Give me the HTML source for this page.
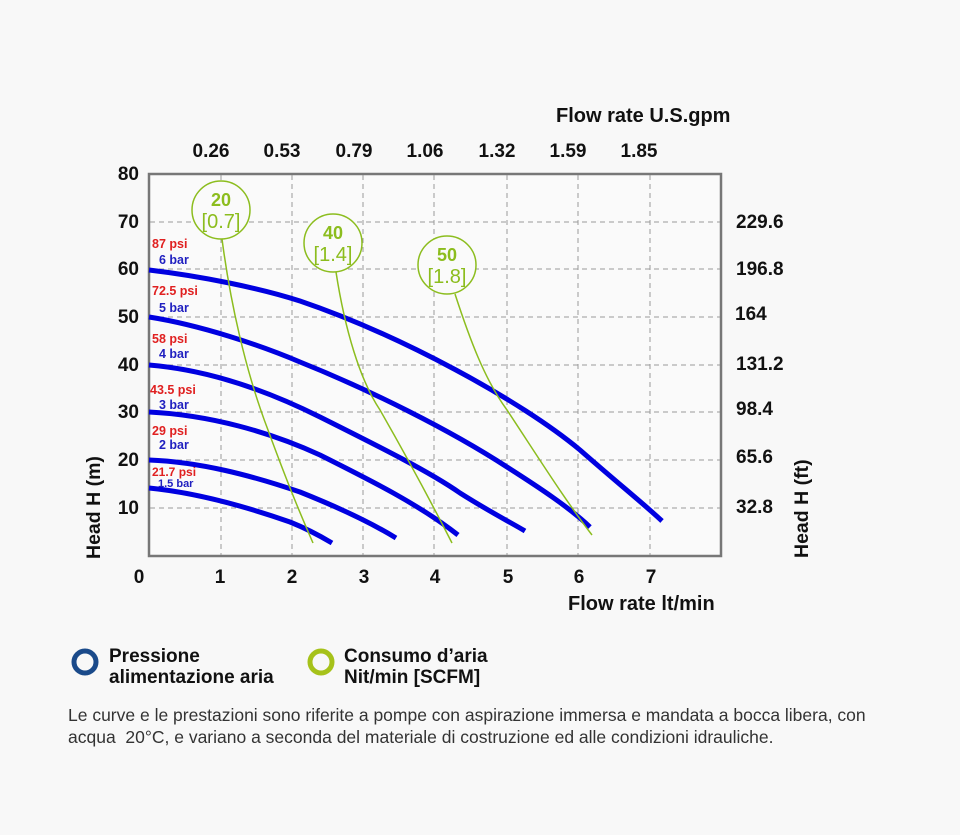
<!DOCTYPE html>
<html><head><meta charset="utf-8"><style>
body{margin:0;background:#f8f8f8;font-family:"Liberation Sans",sans-serif;}
</style></head><body>
<svg width="960" height="830" viewBox="0 0 960 830" xmlns="http://www.w3.org/2000/svg" font-family="Liberation Sans, sans-serif">
<rect width="960" height="830" fill="#f8f8f8"/>
<rect x="149" y="174" width="572" height="382" fill="#fafafa" stroke="#777" stroke-width="2.5"/>
<g stroke="#999" stroke-width="1" stroke-dasharray="5,4">
<line x1="221" y1="175" x2="221" y2="555"/><line x1="292" y1="175" x2="292" y2="555"/><line x1="363" y1="175" x2="363" y2="555"/><line x1="434" y1="175" x2="434" y2="555"/><line x1="507" y1="175" x2="507" y2="555"/><line x1="578" y1="175" x2="578" y2="555"/><line x1="650" y1="175" x2="650" y2="555"/>
<line x1="150" y1="222" x2="720" y2="222"/><line x1="150" y1="269" x2="720" y2="269"/><line x1="150" y1="317" x2="720" y2="317"/><line x1="150" y1="365" x2="720" y2="365"/><line x1="150" y1="412" x2="720" y2="412"/><line x1="150" y1="460" x2="720" y2="460"/><line x1="150" y1="508" x2="720" y2="508"/>
</g>
<g fill="none" stroke="#0000e0" stroke-width="5" stroke-linecap="butt">
<path d="M149,270 C200,276 260,288 300,301 C400,335 520,400 580,450 C620,485 645,505 662,521"/>
<path d="M149,317 C200,325 260,345 300,362 C370,390 450,430 507,467 C540,488 570,508 590,527"/>
<path d="M149,365 C210,370 270,392 320,417 C380,447 430,472 460,493 C490,512 510,522 525,531"/>
<path d="M149,412 C210,415 270,432 320,455 C370,480 420,505 458,535"/>
<path d="M149,460 C200,462 250,475 300,492 C340,508 370,522 396,538"/>
<path d="M149,488 C200,493 250,508 290,522 C310,530 322,537 332,543"/>
</g>
<g fill="none" stroke="#8cbd1e" stroke-width="1.5">
<path d="M222,239 C230,300 245,370 268,430 C290,490 303,520 313,543"/>
<path d="M336,272 C345,330 360,380 380,410 C400,445 425,490 452,543"/>
<path d="M455,294 C470,340 485,380 507,410 C540,460 565,500 592,535"/>
<circle cx="221" cy="210" r="29" fill="#fafafa"/><circle cx="333" cy="243" r="29" fill="#fafafa"/><circle cx="447" cy="265" r="29" fill="#fafafa"/>
</g>
<g text-anchor="middle" fill="#8cbd1e">
<text x="221" y="206" font-size="18" font-weight="bold">20</text><text x="221" y="228" font-size="20">[0.7]</text>
<text x="333" y="239" font-size="18" font-weight="bold">40</text><text x="333" y="261" font-size="20">[1.4]</text>
<text x="447" y="261" font-size="18" font-weight="bold">50</text><text x="447" y="283" font-size="20">[1.8]</text>
</g>
<g font-size="12.5" font-weight="bold">
<text x="152" y="248" fill="#e02020">87 psi</text><text x="159" y="264" fill="#2020c0">6 bar</text>
<text x="152" y="295" fill="#e02020">72.5 psi</text><text x="159" y="312" fill="#2020c0">5 bar</text>
<text x="152" y="343" fill="#e02020">58 psi</text><text x="159" y="358" fill="#2020c0">4 bar</text>
<text x="150" y="394" fill="#e02020">43.5 psi</text><text x="159" y="409" fill="#2020c0">3 bar</text>
<text x="152" y="435" fill="#e02020">29 psi</text><text x="159" y="449" fill="#2020c0">2 bar</text>
<text x="152" y="476" fill="#e02020" font-size="12">21.7 psi</text><text x="158" y="487" fill="#2020c0" font-size="11">1.5 bar</text>
</g>
<g font-size="19" font-weight="bold" fill="#111" text-anchor="end">
<text x="139" y="180">80</text><text x="139" y="228">70</text><text x="139" y="275">60</text><text x="139" y="323">50</text><text x="139" y="371">40</text><text x="139" y="418">30</text><text x="139" y="466">20</text><text x="139" y="514">10</text>
</g>
<g font-size="19" font-weight="bold" fill="#111">
<text x="736" y="228">229.6</text><text x="736" y="275">196.8</text><text x="735" y="320">164</text><text x="736" y="370">131.2</text><text x="736" y="415">98.4</text><text x="736" y="463">65.6</text><text x="736" y="513">32.8</text>
</g>
<g font-size="19" font-weight="bold" fill="#111" text-anchor="middle">
<text x="139" y="583">0</text><text x="220" y="583">1</text><text x="292" y="583">2</text><text x="364" y="583">3</text><text x="435" y="583">4</text><text x="508" y="583">5</text><text x="579" y="583">6</text><text x="651" y="583">7</text>
<text x="211" y="157">0.26</text><text x="282" y="157">0.53</text><text x="354" y="157">0.79</text><text x="425" y="157">1.06</text><text x="497" y="157">1.32</text><text x="568" y="157">1.59</text><text x="639" y="157">1.85</text>
</g>
<text x="556" y="122" font-size="20" font-weight="bold" fill="#111">Flow rate U.S.gpm</text>
<text x="568" y="610" font-size="20" font-weight="bold" fill="#111">Flow rate lt/min</text>
<text transform="translate(100,559) rotate(-90)" font-size="19.5" font-weight="bold" fill="#111">Head H (m)</text>
<text transform="translate(808,558) rotate(-90)" font-size="19.5" font-weight="bold" fill="#111">Head H (ft)</text>
<circle cx="85" cy="662" r="11" fill="none" stroke="#1a4a8a" stroke-width="5"/>
<circle cx="321" cy="662" r="11" fill="none" stroke="#a6c21a" stroke-width="5"/>
<g font-size="19" font-weight="bold" fill="#111">
<text x="109" y="662">Pressione</text><text x="109" y="683">alimentazione aria</text>
<text x="344" y="662">Consumo d’aria</text><text x="344" y="683">Nit/min [SCFM]</text>
</g>
<g font-size="17.5" fill="#333">
<text x="68" y="721">Le curve e le prestazioni sono riferite a pompe con aspirazione immersa e mandata a bocca libera, con</text>
<text x="68" y="743">acqua &#160;20°C, e variano a seconda del materiale di costruzione ed alle condizioni idrauliche.</text>
</g>
</svg>
</body></html>
